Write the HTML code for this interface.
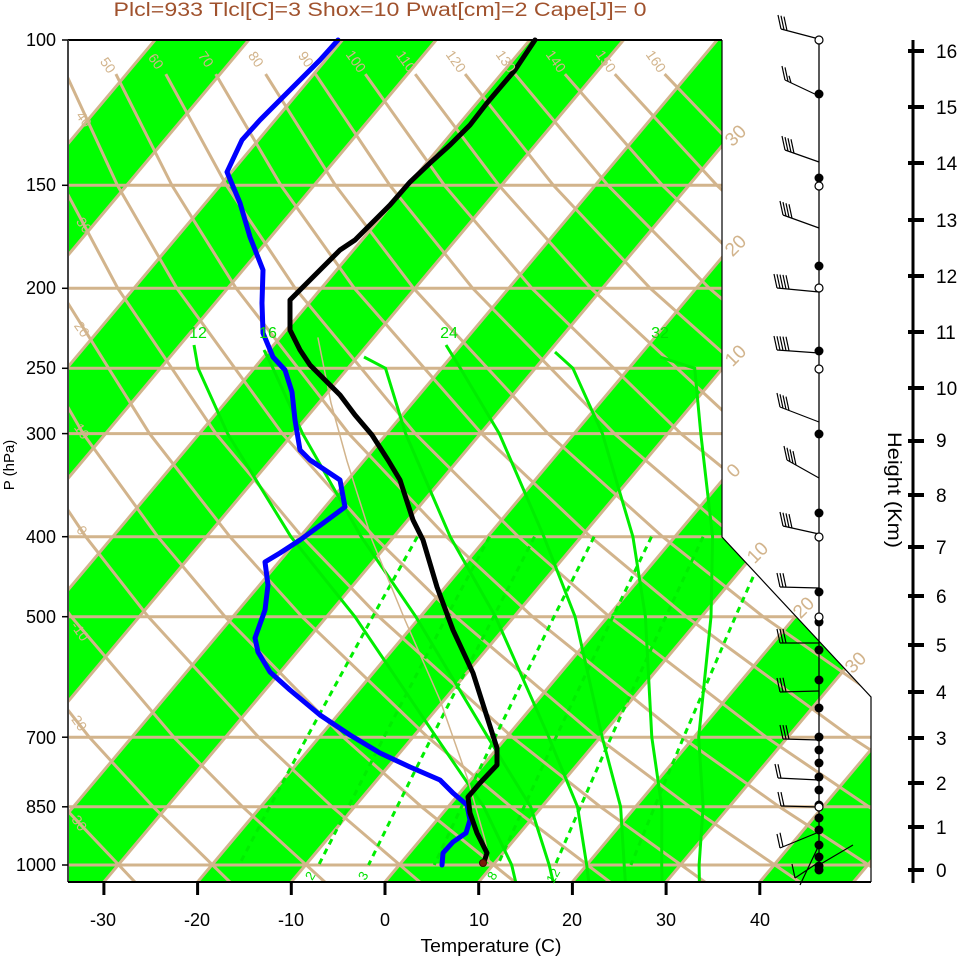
<!DOCTYPE html>
<html><head><meta charset="utf-8"><style>
html,body{margin:0;padding:0;background:#fff;}
svg{display:block;font-family:"Liberation Sans",Arial,sans-serif;}
</style></head><body>
<svg width="961" height="957" viewBox="0 0 961 957" xmlns="http://www.w3.org/2000/svg">
<defs>
<clipPath id="cp"><polygon points="68,40 722,40 722,537 871,697 871,882 68,882"/></clipPath>
</defs>
<rect width="961" height="957" fill="#fff"/>
<g clip-path="url(#cp)">
<g fill="#00ff00">
<polygon points="-552,882 -458.3,882 248.7,40 155,40"/>
<polygon points="-364.6,882 -270.9,882 436.1,40 342.4,40"/>
<polygon points="-177.2,882 -83.5,882 623.5,40 529.8,40"/>
<polygon points="10.2,882 103.9,882 810.9,40 717.2,40"/>
<polygon points="197.6,882 291.3,882 998.3,40 904.6,40"/>
<polygon points="385,882 478.7,882 1185.7,40 1092,40"/>
<polygon points="572.4,882 666.1,882 1373.1,40 1279.4,40"/>
<polygon points="759.8,882 853.5,882 1560.5,40 1466.8,40"/>
</g>
<g stroke="#d2b48c" stroke-width="3" fill="none">
<line x1="-552" y1="882" x2="155" y2="40"/>
<line x1="-458.3" y1="882" x2="248.7" y2="40"/>
<line x1="-364.6" y1="882" x2="342.4" y2="40"/>
<line x1="-270.9" y1="882" x2="436.1" y2="40"/>
<line x1="-177.2" y1="882" x2="529.8" y2="40"/>
<line x1="-83.5" y1="882" x2="623.5" y2="40"/>
<line x1="10.2" y1="882" x2="717.2" y2="40"/>
<line x1="103.9" y1="882" x2="810.9" y2="40"/>
<line x1="197.6" y1="882" x2="904.6" y2="40"/>
<line x1="291.3" y1="882" x2="998.3" y2="40"/>
<line x1="385" y1="882" x2="1092" y2="40"/>
<line x1="478.7" y1="882" x2="1185.7" y2="40"/>
<line x1="572.4" y1="882" x2="1279.4" y2="40"/>
<line x1="666.1" y1="882" x2="1373.1" y2="40"/>
<line x1="759.8" y1="882" x2="1466.8" y2="40"/>
<line x1="853.5" y1="882" x2="1560.5" y2="40"/>
<line x1="60" y1="185.3" x2="880" y2="185.3"/>
<line x1="60" y1="288.3" x2="880" y2="288.3"/>
<line x1="60" y1="368.3" x2="880" y2="368.3"/>
<line x1="60" y1="433.6" x2="880" y2="433.6"/>
<line x1="60" y1="536.7" x2="880" y2="536.7"/>
<line x1="60" y1="616.7" x2="880" y2="616.7"/>
<line x1="60" y1="737.2" x2="880" y2="737.2"/>
<line x1="60" y1="806.8" x2="880" y2="806.8"/>
<line x1="60" y1="865" x2="880" y2="865"/>
<polyline points="-283.1,74.1 -264.1,185.3 -237.2,288.3 -182.6,433.6 -130.7,536.7 -82.4,616.7 4.7,737.2 63.7,806.8 135.4,882.5"/>
<polyline points="-233.2,74.1 -209.6,185.3 -178,288.3 -116.2,433.6 -58.6,536.7 -5.5,616.7 89.3,737.2 153.2,806.8 230.4,882.5"/>
<polyline points="-183.4,74.1 -155.1,185.3 -118.9,288.3 -49.8,433.6 13.5,536.7 71.3,616.7 173.9,737.2 242.6,806.8 325.4,882.5"/>
<polyline points="-133.5,74.1 -100.6,185.3 -59.7,288.3 16.7,433.6 85.7,536.7 148.2,616.7 258.6,737.2 332.1,806.8 420.4,882.5"/>
<polyline points="-83.6,74.1 -46.1,185.3 -0.6,288.3 83.1,433.6 157.8,536.7 225.1,616.7 343.2,737.2 421.5,806.8 515.5,882.5"/>
<polyline points="-33.7,74.1 8.4,185.3 58.6,288.3 149.5,433.6 229.9,536.7 302,616.7 427.8,737.2 511,806.8 610.5,882.5"/>
<polyline points="16.2,74.1 62.9,185.3 117.8,288.3 215.9,433.6 302,536.7 378.8,616.7 512.4,737.2 600.4,806.8 705.5,882.5"/>
<polyline points="66.1,74.1 117.4,185.3 176.9,288.3 282.3,433.6 374.1,536.7 455.7,616.7 597,737.2 689.9,806.8 800.5,882.5"/>
<polyline points="115.9,74.1 171.9,185.3 236.1,288.3 348.8,433.6 446.3,536.7 532.6,616.7 681.7,737.2 779.3,806.8 895.5,882.5"/>
<polyline points="165.8,74.1 226.4,185.3 295.2,288.3 415.2,433.6 518.4,536.7 609.4,616.7 766.3,737.2 868.8,806.8 990,882.5"/>
<polyline points="215.7,74.1 280.9,185.3 354.4,288.3 481.6,433.6 590.5,536.7 686.3,616.7 850.9,737.2 958,806.8"/>
<polyline points="265.6,74.1 335.4,185.3 413.6,288.3 548,433.6 662.6,536.7 763.2,616.7 935.5,737.2"/>
<polyline points="315.5,74.1 389.9,185.3 472.7,288.3 614.4,433.6 734.7,536.7 840,616.7 1020,737.2"/>
<polyline points="365.3,74.1 444.4,185.3 531.9,288.3 680.9,433.6 806.9,536.7 916.9,616.7"/>
<polyline points="415.2,74.1 498.9,185.3 591,288.3 747.3,433.6 879,536.7"/>
<polyline points="465.1,74.1 553.4,185.3 650.2,288.3 813.7,433.6 951,536.7"/>
<polyline points="515,74.1 607.9,185.3 709.4,288.3 880.1,433.6"/>
<polyline points="564.9,74.1 662.4,185.3 768.5,288.3 946.5,433.6"/>
<polyline points="614.8,74.1 716.9,185.3 827.7,288.3"/>
<polyline points="664.6,74.1 771.4,185.3 886.8,288.3"/>
</g>
<g stroke="#00ee00" stroke-width="3" fill="none">
<polyline points="194,345 198.1,368.3 227.6,433.6 290.9,536.7 354.9,616.7 436.3,737.2 483.8,806.8 511.7,865 515.8,882.5"/>
<polyline points="264,350 273,368.3 302.6,433.6 361.2,536.7 415.8,616.7 487.9,737.2 530.7,806.8 549.2,865 553.3,882.5"/>
<polyline points="364,357 385.5,368.3 405.6,433.6 450.2,536.7 495.5,616.7 548.8,737.2 577.5,806.8 586.7,865 588.9,882.5"/>
<polyline points="446,345 460.4,368.3 499.3,433.6 543.9,536.7 575.1,616.7 602.2,737.2 620.6,806.8 624.2,865 625.4,882.5"/>
<polyline points="555,352 572.9,368.3 602.4,433.6 632.9,536.7 645.4,616.7 651.8,737.2 661.8,806.8 661.7,865 662,882.5"/>
<polyline points="660,357 694.7,368.3 700.8,433.6 712.6,536.7 711,616.7 698.7,737.2 703.1,806.8 699.1,865 699.4,882.5"/>
</g>
<g stroke="#00ee00" stroke-width="3" fill="none" stroke-dasharray="6,5">
<polyline points="417.4,536.7 372.7,616.7 307,737.2 269.7,806.8 239.1,865"/>
<polyline points="489.6,536.7 446.7,616.7 383.9,737.2 348.4,806.8 318.7,865"/>
<polyline points="534.5,536.7 493.6,616.7 431.8,737.2 397.1,806.8 368.5,865"/>
<polyline points="594.1,536.7 554,616.7 495,737.2 461.6,806.8 434.2,865"/>
<polyline points="651.5,536.7 612.9,616.7 556,737.2 524.1,806.8 497.7,865"/>
<polyline points="703.1,536.7 665.8,616.7 611.1,737.2 580.4,806.8 555.2,865"/>
<polyline points="771,536.7 735.4,616.7 683.6,737.2 654.6,806.8 630.9,865"/>
</g>
</g>
<g fill="none" stroke-linejoin="round" stroke-linecap="round">
<polyline stroke="#d2b48c" stroke-width="1.5" points="318,338 331,403 347,461 372,540 405,620 440,700 468,780 485,840 490,865"/>
<polyline stroke="#0000ff" stroke-width="5" points="338,40 320,60 300,80 280,100 260,120 242,140 227,172 240,203 250,237 263,270 262,303 263,333 273,357 285,370 292,392 295,420 300,450 310,460 340,480 345,507 322,524 300,540 280,553 265,562 268,585 265,610 255,638 258,652 270,672 290,690 320,715 350,735 380,753 410,767 440,780 453,793 467,805 470,820 466,833 453,842 443,853 442,865"/>
<polyline stroke="#000" stroke-width="5" points="535,40 515,70 487,103 470,125 450,145 430,163 410,182 390,205 370,225 355,240 340,250 320,270 305,285 290,300 290,330 300,350 310,365 325,380 340,395 355,415 372,435 388,460 400,480 413,520 423,540 437,587 453,630 473,673 488,720 497,748 497,765 480,783 468,797 470,813 477,833 487,853 484,862"/>
<circle cx="483" cy="863" r="3.5" fill="#7a1a0a" stroke="#3a0a00" stroke-width="1"/>
</g>
<g fill="none" stroke="#000">
<polyline stroke-width="1.2" points="722,40 722,537 871,697 871,882"/>
<line x1="68" y1="40" x2="722" y2="40" stroke-width="2"/>
<line x1="68" y1="40" x2="68" y2="882" stroke="#444" stroke-width="2"/>
<line x1="68" y1="882" x2="871" y2="882" stroke-width="2"/>
</g>
<g stroke="#000" stroke-width="3">
<line x1="103.9" y1="882" x2="103.9" y2="895"/><line x1="197.6" y1="882" x2="197.6" y2="895"/><line x1="291.3" y1="882" x2="291.3" y2="895"/><line x1="385" y1="882" x2="385" y2="895"/><line x1="478.7" y1="882" x2="478.7" y2="895"/><line x1="572.4" y1="882" x2="572.4" y2="895"/><line x1="666.1" y1="882" x2="666.1" y2="895"/><line x1="759.8" y1="882" x2="759.8" y2="895"/>
<g stroke-width="1.5">
<line x1="62" y1="40" x2="68" y2="40"/><line x1="62" y1="185.3" x2="68" y2="185.3"/><line x1="62" y1="288.3" x2="68" y2="288.3"/><line x1="62" y1="368.3" x2="68" y2="368.3"/><line x1="62" y1="433.6" x2="68" y2="433.6"/><line x1="62" y1="536.7" x2="68" y2="536.7"/><line x1="62" y1="616.7" x2="68" y2="616.7"/><line x1="62" y1="737.2" x2="68" y2="737.2"/><line x1="62" y1="806.8" x2="68" y2="806.8"/><line x1="62" y1="865" x2="68" y2="865"/>
</g>
<line x1="913" y1="40" x2="913" y2="883"/>
<g stroke-width="4">
<line x1="908" y1="51" x2="924" y2="51"/><line x1="908" y1="107" x2="924" y2="107"/><line x1="908" y1="163" x2="924" y2="163"/><line x1="908" y1="220" x2="924" y2="220"/><line x1="908" y1="276" x2="924" y2="276"/><line x1="908" y1="332" x2="924" y2="332"/><line x1="908" y1="388" x2="924" y2="388"/><line x1="908" y1="441" x2="924" y2="441"/><line x1="908" y1="495" x2="924" y2="495"/><line x1="908" y1="547" x2="924" y2="547"/><line x1="908" y1="596" x2="924" y2="596"/><line x1="908" y1="645" x2="924" y2="645"/><line x1="908" y1="692" x2="924" y2="692"/><line x1="908" y1="738" x2="924" y2="738"/><line x1="908" y1="783" x2="924" y2="783"/><line x1="908" y1="827" x2="924" y2="827"/><line x1="908" y1="870" x2="924" y2="870"/>
</g>
</g>
<g stroke="#000" fill="none" stroke-width="1.2">
<line x1="819" y1="38" x2="819" y2="872" stroke-width="1.3"/>
<path d="M819,39 L781,29 M819,96 L785,80 M819,162 L785,150 M819,228 L783,215 M819,292 L777,288 M819,353 L777,350 M819,422 L780,407 M819,478 L787,460 M819,534 L783,526 M819,588 L780,587 M819,643 L780,643 M819,691 L780,692 M819,740 L783,739 M819,780 L778,778 M819,807 L781,806 M819,832 L780,848 M819,862 L795,878 M819,865 L853,845 M819,845 L800,885"/>
<path d="M781,29 l-3,-14 m6,14.8 l-3,-14 m6,14.8 l-3,-14"/>
<path d="M785,80 l-3,-14 m6,15.4 l-3,-14 m6,15.4 l-2,-7"/>
<path d="M785,150 l-3,-14 m6,15.1 l-3,-14 m6,15.1 l-3,-14 m6,15.1 l-3,-14"/>
<path d="M783,215 l-3,-14 m6,15.1 l-3,-14 m6,15.1 l-3,-14 m6,15.1 l-3,-14"/>
<path d="M777,288 l-3,-14 m6,14.3 l-3,-14 m6,14.3 l-3,-14 m6,14.3 l-3,-14 m6,14.3 l-3,-14"/>
<path d="M777,350 l-3,-14 m6,14.2 l-3,-14 m6,14.2 l-3,-14 m6,14.2 l-3,-14 m6,14.2 l-3,-14"/>
<path d="M780,407 l-3,-14 m6,15.2 l-3,-14 m6,15.2 l-3,-14 m6,15.2 l-3,-14"/>
<path d="M787,460 l-3,-14 m6,15.7 l-3,-14 m6,15.7 l-3,-14 m6,15.7 l-3,-14"/>
<path d="M783,526 l-3,-14 m6,14.7 l-3,-14 m6,14.7 l-3,-14 m6,14.7 l-3,-14"/>
<path d="M780,587 l-3,-14 m6,14.1 l-3,-14 m6,14.1 l-3,-14"/>
<path d="M780,643 l-3,-14 m6,14 l-3,-14 m6,14 l-3,-14"/>
<path d="M780,692 l-3,-14 m6,13.9 l-3,-14 m6,13.9 l-3,-14"/>
<path d="M783,739 l-3,-14 m6,14.1 l-3,-14 m6,14.1 l-3,-14"/>
<path d="M778,778 l-3,-14 m6,14.2 l-3,-14"/>
<path d="M781,806 l-3,-14 m6,14.1 l-3,-14"/>
<path d="M780,848 l-3,-14 m6,12.8 l-3,-14"/>
<path d="M795,878 l-3,-14"/>
</g>
<g fill="#000">
<circle cx="819" cy="94" r="4.5"/><circle cx="819" cy="178" r="4.5"/><circle cx="819" cy="266" r="4.5"/><circle cx="819" cy="351" r="4.5"/><circle cx="819" cy="434" r="4.5"/><circle cx="819" cy="513" r="4.5"/><circle cx="819" cy="592" r="4.5"/><circle cx="819" cy="622" r="4.5"/><circle cx="819" cy="650" r="4.5"/><circle cx="819" cy="680" r="4.5"/><circle cx="819" cy="708" r="4.5"/><circle cx="819" cy="737" r="4.5"/><circle cx="819" cy="750" r="4.5"/><circle cx="819" cy="763" r="4.5"/><circle cx="819" cy="777" r="4.5"/><circle cx="819" cy="790" r="4.5"/><circle cx="819" cy="805" r="4.5"/><circle cx="819" cy="818" r="4.5"/><circle cx="819" cy="830" r="4.5"/><circle cx="819" cy="845" r="4.5"/><circle cx="819" cy="857" r="4.5"/><circle cx="819" cy="866" r="4.5"/><circle cx="819" cy="870" r="4.5"/>
</g>
<g fill="#fff" stroke="#000" stroke-width="1.2">
<circle cx="819" cy="40" r="4"/><circle cx="819" cy="186" r="4"/><circle cx="819" cy="288" r="4"/><circle cx="819" cy="369" r="4"/><circle cx="819" cy="537" r="4"/><circle cx="819" cy="617" r="4"/><circle cx="819" cy="807" r="4"/>
</g>
<text x="380" y="16" font-size="19" fill="#a0522d" text-anchor="middle" textLength="533" lengthAdjust="spacingAndGlyphs">Plcl=933 Tlcl[C]=3 Shox=10 Pwat[cm]=2 Cape[J]= 0</text>
<g font-size="18" text-anchor="end" fill="#000">
<text x="56" y="46">100</text><text x="56" y="191">150</text><text x="56" y="294">200</text><text x="56" y="374">250</text><text x="56" y="440">300</text><text x="56" y="543">400</text><text x="56" y="623">500</text><text x="56" y="744">700</text><text x="56" y="813">850</text><text x="56" y="871">1000</text>
</g>
<text transform="translate(14,465) rotate(-90)" font-size="15" text-anchor="middle">P (hPa)</text>
<g font-size="18" text-anchor="middle" fill="#000">
<text x="103" y="926">-30</text><text x="197" y="926">-20</text><text x="291" y="926">-10</text><text x="385" y="926">0</text><text x="479" y="926">10</text><text x="572" y="926">20</text><text x="666" y="926">30</text><text x="760" y="926">40</text>
</g>
<text x="491" y="952" font-size="18" text-anchor="middle" textLength="141" lengthAdjust="spacingAndGlyphs">Temperature (C)</text>
<text transform="translate(888,490) rotate(90)" font-size="19" text-anchor="middle" textLength="116" lengthAdjust="spacingAndGlyphs">Height (Km)</text>
<g font-size="19" fill="#000">
<text x="936" y="58">16</text><text x="936" y="114">15</text><text x="936" y="170">14</text><text x="936" y="227">13</text><text x="936" y="283">12</text><text x="936" y="339">11</text><text x="936" y="395">10</text><text x="936" y="447">9</text><text x="936" y="502">8</text><text x="936" y="554">7</text><text x="936" y="603">6</text><text x="936" y="652">5</text><text x="936" y="699">4</text><text x="936" y="745">3</text><text x="936" y="790">2</text><text x="936" y="834">1</text><text x="936" y="877">0</text>
</g>
<g font-size="14" fill="#d2b48c" text-anchor="middle">
<text transform="translate(104,68) rotate(55)">50</text>
<text transform="translate(152,64) rotate(55)">60</text>
<text transform="translate(202,62) rotate(55)">70</text>
<text transform="translate(252,62) rotate(55)">80</text>
<text transform="translate(302,62) rotate(55)">90</text>
<text transform="translate(352,64) rotate(55)">100</text>
<text transform="translate(402,64) rotate(55)">110</text>
<text transform="translate(452,64) rotate(55)">120</text>
<text transform="translate(502,64) rotate(55)">130</text>
<text transform="translate(552,64) rotate(55)">140</text>
<text transform="translate(602,64) rotate(55)">150</text>
<text transform="translate(652,64) rotate(55)">160</text>
<text transform="translate(80,122) rotate(55)">40</text>
<text transform="translate(80,228) rotate(55)">30</text>
<text transform="translate(78,332) rotate(55)">20</text>
<text transform="translate(78,434) rotate(55)">10</text>
<text transform="translate(78,533) rotate(55)">0</text>
<text transform="translate(76,634) rotate(55)">-10</text>
<text transform="translate(74,724) rotate(55)">-20</text>
<text transform="translate(74,824) rotate(55)">-30</text>
</g>
<g font-size="19" fill="#d2b48c" text-anchor="middle">
<text transform="translate(740,140) rotate(-45)">30</text>
<text transform="translate(740,250) rotate(-45)">20</text>
<text transform="translate(740,360) rotate(-45)">10</text>
<text transform="translate(738,475) rotate(-45)">0</text>
<text transform="translate(762,557) rotate(-45)">10</text>
<text transform="translate(808,612) rotate(-45)">20</text>
<text transform="translate(860,667) rotate(-45)">30</text>
</g>
<g font-size="16" fill="#00e000" text-anchor="middle">
<text x="198" y="338">12</text><text x="268" y="338">16</text><text x="449" y="338">24</text><text x="660" y="338">32</text>
</g>
<g font-size="13" fill="#00e000" text-anchor="middle">
<text transform="translate(314,878) rotate(-60)">2</text>
<text transform="translate(367,878) rotate(-60)">3</text>
<text transform="translate(496,878) rotate(-60)">8</text>
<text transform="translate(557,878) rotate(-60)">12</text>
</g>
</svg>
</body></html>
